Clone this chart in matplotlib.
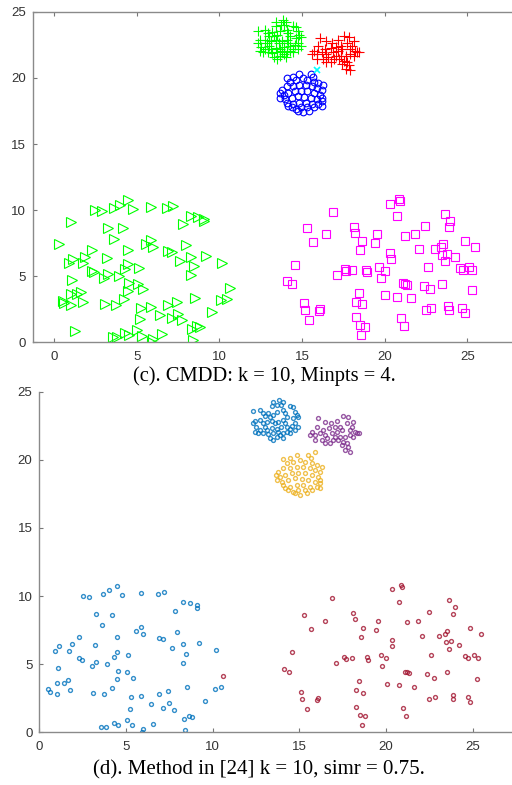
import numpy as np
import matplotlib.pyplot as plt

# ---- data ----
# bottom-left cluster
left_x = [4.46, 4.02, 3.65, 2.50, 2.88, 4.75, 5.85, 6.83, 7.21, 8.27, 8.71, 9.10, 9.10, 7.83,
          3.29, 4.17, 3.60, 5.56, 5.88, 6.00, 7.96, 2.31, 4.50, 6.92, 7.13, 1.87, 1.12, 0.90,
          1.73, 3.19, 4.46, 7.65, 8.31, 8.46, 9.19, 10.17, 2.29, 2.44, 4.31, 5.12, 3.29, 3.92,
          3.02, 1.10, 8.31, 4.56, 5.08, 5.40, 4.46, 0.52, 0.62, 1.04, 1.40, 1.65, 1.77, 1.00,
          3.08, 3.75, 4.21, 5.29, 5.88, 6.92, 7.42, 8.54, 10.13, 10.46, 9.54, 5.23, 6.44, 7.12,
          7.48, 7.77, 8.37, 8.63, 8.81, 5.04, 4.31, 4.56, 5.35, 6.54, 3.58, 3.83, 6.00, 5.90, 8.40]
left_y = [10.76, 10.42, 10.17, 10.00, 9.95, 10.07, 10.20, 10.15, 10.29, 9.56, 9.46, 9.34, 9.14, 8.92,
          8.68, 8.63, 7.85, 7.46, 7.75, 7.24, 7.38, 6.97, 6.97, 6.94, 6.85, 6.48, 6.33, 5.97,
          5.97, 6.38, 5.92, 6.16, 6.48, 5.77, 6.55, 6.01, 5.43, 5.28, 5.55, 5.65, 5.16, 4.99,
          4.87, 4.72, 5.06, 4.52, 4.43, 4.01, 3.89, 3.15, 2.98, 3.64, 3.64, 3.84, 3.08, 2.84,
          2.91, 2.79, 3.28, 2.62, 2.69, 2.84, 3.01, 3.33, 3.20, 3.30, 2.27, 1.74, 2.05, 1.81,
          2.13, 1.66, 1.00, 1.20, 1.15, 0.90, 0.71, 0.54, 0.51, 0.61, 0.39, 0.37, 0.27, 0.00, 0.15]
# point of the left cluster that method [24] gives to the right cluster
edge_x = [10.62]
edge_y = [4.11]
# points only shown in (c)
extra_x = [1.00, 0.30, 1.27]
extra_y = [9.10, 7.47, 0.88]

# bottom-right cluster
right_x = [20.88, 20.92, 20.33, 20.73, 16.88, 23.63, 23.98, 23.87, 22.46, 15.29, 18.12, 18.21,
           16.48, 19.54, 21.21, 21.87, 15.67, 18.65, 19.42, 24.85, 25.46, 23.54, 23.42, 23.04,
           22.08, 18.54, 20.33, 20.37, 23.46, 23.75, 24.23, 23.63, 14.56, 19.69, 20.00, 22.60,
           17.60, 17.69, 18.04, 17.10, 18.88, 18.94, 19.77, 24.56, 24.75, 25.10, 25.31, 14.10,
           14.42, 21.09, 21.21, 21.35, 22.36, 22.77, 23.50, 25.27, 18.46, 20.04, 20.77, 21.62,
           18.29, 18.65, 15.10, 15.17, 16.10, 16.04, 15.42, 22.48, 22.83, 23.85, 23.87, 24.71,
           24.86, 18.27, 18.50, 18.81, 18.60, 21.00, 21.15]
right_y = [10.81, 10.66, 10.49, 9.54, 9.83, 9.73, 9.17, 8.70, 8.80, 8.63, 8.75, 8.29,
           8.19, 8.19, 8.07, 8.17, 7.60, 7.65, 7.51, 7.65, 7.24, 7.43, 7.19, 7.09,
           7.07, 6.97, 6.75, 6.33, 6.60, 6.67, 6.43, 6.14, 5.87, 5.70, 5.43, 5.70,
           5.55, 5.38, 5.45, 5.09, 5.50, 5.28, 4.84, 5.62, 5.48, 5.70, 5.45, 4.67,
           4.43, 4.45, 4.40, 4.35, 4.28, 4.01, 4.40, 3.94, 3.74, 3.57, 3.45, 3.35,
           3.08, 2.89, 2.98, 2.47, 2.54, 2.35, 1.69, 2.47, 2.62, 2.71, 2.42, 2.57,
           2.25, 1.88, 1.30, 1.17, 0.56, 1.81, 1.20]

# top-left small cluster
c1_x = [13.46, 13.85, 14.04, 13.93, 13.73, 13.41, 12.74, 12.35, 12.93, 13.21, 13.02, 13.31,
        13.69, 13.50, 14.08, 14.17, 14.46, 14.66, 14.75, 14.85, 14.95, 14.66, 14.27, 14.08,
        14.17, 13.79, 13.60, 13.41, 13.12, 12.89, 12.74, 12.45, 12.35, 12.50, 12.74, 12.45,
        12.64, 12.93, 13.12, 13.41, 13.69, 13.79, 13.50, 13.89, 14.08, 14.27, 14.46, 14.56,
        14.75, 14.95, 14.75, 14.46, 13.69, 13.31, 13.50, 13.21, 14.04, 13.93, 14.27, 13.02]
c1_y = [24.25, 24.37, 24.25, 24.01, 24.01, 23.94, 23.64, 23.59, 23.40, 23.45, 23.20, 23.15,
        23.52, 23.28, 23.64, 23.40, 23.94, 23.84, 23.52, 23.28, 23.10, 23.03, 23.15, 22.91,
        22.66, 22.79, 22.66, 22.86, 22.79, 22.66, 22.91, 22.86, 22.66, 22.37, 22.17, 22.05,
        21.93, 21.93, 22.17, 22.30, 22.22, 22.05, 21.93, 21.81, 21.98, 22.05, 22.22, 22.47,
        22.66, 22.42, 22.17, 21.93, 21.69, 21.56, 21.44, 21.88, 21.56, 22.37, 22.42, 22.42]

# top-right small cluster
c2_x = [16.10, 16.48, 16.81, 17.16, 17.54, 17.83, 17.35, 17.06, 16.73, 16.39, 16.00, 15.71,
        15.90, 16.19, 16.48, 16.58, 16.29, 15.90, 15.62, 16.87, 17.16, 17.44, 17.73, 18.02,
        18.22, 18.31, 18.46, 18.12, 17.93, 17.64, 17.35, 17.06, 17.25, 17.54, 17.73, 17.83,
        17.64, 17.44, 16.96, 16.77, 16.48, 17.93, 18.12, 17.93]
c2_y = [23.03, 22.79, 22.66, 22.86, 23.20, 23.10, 22.42, 22.37, 22.30, 22.17, 22.42, 22.05,
        21.81, 21.93, 21.81, 21.56, 21.44, 21.44, 21.81, 21.93, 22.05, 22.17, 22.66, 22.42,
        22.05, 21.93, 21.98, 21.69, 21.81, 21.69, 21.69, 21.69, 21.44, 21.32, 21.20, 20.95,
        20.71, 21.07, 21.44, 21.20, 21.20, 20.59, 22.79, 22.17]

# lower small cluster
c3_x = [15.52, 15.66, 14.85, 14.46, 14.08, 14.27, 14.66, 15.04, 15.33, 15.71, 16.00, 16.29,
        16.19, 15.90, 15.62, 15.23, 14.85, 14.46, 14.08, 13.79, 13.66, 13.89, 14.17, 14.56,
        14.95, 15.33, 15.71, 16.10, 16.19, 15.90, 15.52, 15.14, 14.75, 14.37, 13.98, 13.69,
        14.08, 14.46, 14.85, 15.23, 15.62, 16.00, 16.19, 15.71, 15.33, 14.95, 14.66, 14.75,
        15.04, 15.43, 14.37, 14.17, 16.19]
c3_y = [20.34, 20.09, 20.34, 20.09, 20.02, 19.73, 19.85, 19.97, 19.85, 19.73, 19.61, 19.49,
        19.12, 19.24, 19.36, 19.49, 19.49, 19.36, 19.36, 19.12, 18.87, 18.75, 18.87, 19.00,
        19.05, 19.00, 18.87, 18.75, 18.51, 18.39, 18.51, 18.56, 18.63, 18.51, 18.39, 18.51,
        18.14, 18.02, 18.14, 18.14, 18.02, 18.02, 18.26, 17.77, 17.77, 17.77, 17.65, 17.53,
        17.41, 17.53, 17.77, 17.89, 17.89]

# noise point between the small clusters
noise_x = [15.9]
noise_y = [20.6]

ticks = [0, 5, 10, 15, 20, 25]

plt.rcParams['font.family'] = 'Liberation Sans'
plt.rcParams['font.size'] = 9.5

fig = plt.figure(figsize=(5.12, 7.85), dpi=100)


def style(ax):
    for s in ax.spines.values():
        s.set_color('#8a8a8a')
        s.set_linewidth(1.0)
    ax.tick_params(direction='in', length=3, color='#777777', labelcolor='#333333', width=0.8)
    ax.tick_params(axis='y', pad=5)
    ax.tick_params(axis='x', pad=6)
    ax.set_xticks(ticks)
    ax.set_yticks(ticks)


# ---------- (c) ----------
ax1 = fig.add_axes([0.0645, 0.5640, 0.9449, 0.4208])
lw = 0.8
ax1.plot(left_x + edge_x + extra_x, left_y + edge_y + extra_y, '>', color='#00ff00',
         mfc='none', ms=6.5, mew=lw)
ax1.plot(right_x, right_y, 's', color='#ff00ff', mfc='none', ms=5.3, mew=lw)
ax1.plot(c1_x, c1_y, '+', color='#00ff00', ms=7.5, mew=lw)
ax1.plot(c2_x, c2_y, '+', color='#ff0000', ms=7.5, mew=lw)
ax1.plot(c3_x, c3_y, 'o', color='#0000ff', mfc='none', ms=4.8, mew=lw)
ax1.plot(noise_x, noise_y, 'x', color='#00ffff', ms=5, mew=1.2)
ax1.set_xlim(-1.27, 28)
ax1.set_ylim(0, 25)
style(ax1)
ax1.spines['right'].set_visible(False)
ax1.tick_params(top=True)

# ---------- (d) ----------
ax2 = fig.add_axes([0.0768, 0.0671, 0.9342, 0.4341])
ms = 2.8
ax2.plot(left_x, left_y, 'o', color='#0072bd', mfc='none', ms=ms, mew=1.0, alpha=0.8)
ax2.plot(right_x + edge_x, right_y + edge_y, 'o', color='#a2142f', mfc='none', ms=ms,
         mew=1.0, alpha=0.8)
ax2.plot(c1_x, c1_y, 'o', color='#0072bd', mfc='none', ms=ms, mew=1.0, alpha=0.8)
ax2.plot(c2_x, c2_y, 'o', color='#7e2f8e', mfc='none', ms=ms, mew=1.0, alpha=0.8)
ax2.plot(c3_x + noise_x, c3_y + noise_y, 'o', color='#edb120', mfc='none', ms=ms,
         mew=1.0, alpha=0.8)
ax2.set_xlim(0, 27.6)
ax2.set_ylim(0, 25)
style(ax2)
ax2.spines['right'].set_visible(False)
ax2.spines['top'].set_visible(False)

fig.text(0.517, 1 - 376 / 785, '(c). CMDD: k = 10, Minpts = 4.', ha='center', va='center',
         family='Liberation Serif', fontsize=14.8)
fig.text(0.505, 1 - 770 / 785, '(d). Method in [24] k = 10, simr = 0.75.', ha='center',
         va='center', family='Liberation Serif', fontsize=15)

fig.savefig('out.png', dpi=100)
